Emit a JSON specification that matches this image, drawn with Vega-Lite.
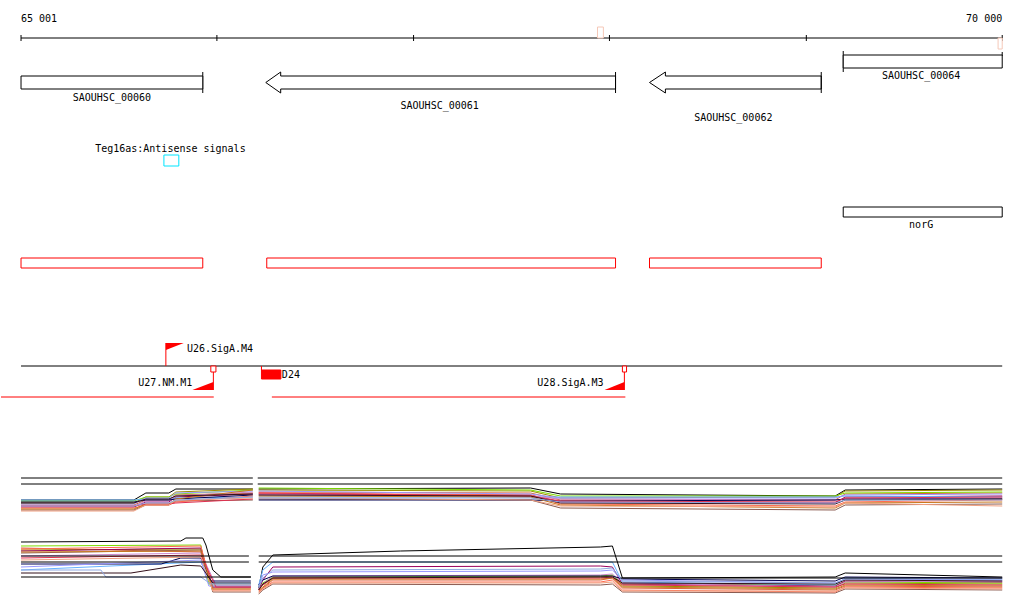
{
"$schema": "https://vega.github.io/schema/vega-lite/v6.json",
"width": 1024, "height": 611, "padding": 0,
"autosize": {"type": "fit", "contains": "padding"},
"background": "white",
"config": {"view": {"stroke": null}},
"datasets": {
"blackRules": [
{"x":65001,"x2":70000,"y":38,"y2":38},
{"x":65001,"x2":65001,"y":35,"y2":41},{"x":65999,"x2":65999,"y":35,"y2":41},{"x":67001,"x2":67001,"y":35,"y2":41},{"x":67999,"x2":67999,"y":35,"y2":41},{"x":69002,"x2":69002,"y":35,"y2":41},{"x":70000,"x2":70000,"y":35,"y2":41},
{"x":65927,"x2":65927,"y":72,"y2":93},{"x":68030,"x2":68030,"y":72,"y2":93},{"x":69078,"x2":69078,"y":72,"y2":93},{"x":69190,"x2":69190,"y":51,"y2":72},{"x":70000,"x2":70000,"y":52,"y2":56},
{"x":65001,"x2":70000,"y":366,"y2":366},
{"x":65001,"x2":66182,"y":478,"y2":478},{"x":66207,"x2":70000,"y":478,"y2":478},
{"x":65001,"x2":66182,"y":484,"y2":484},{"x":66207,"x2":70000,"y":484,"y2":484},
{"x":65001,"x2":66162,"y":556,"y2":556},{"x":66212,"x2":70000,"y":556,"y2":556},
{"x":65001,"x2":66162,"y":562,"y2":562},{"x":66212,"x2":70000,"y":562,"y2":562},
{"x":65001,"x2":66172,"y":577,"y2":577},{"x":68055,"x2":70000,"y":578,"y2":578}
],
"redRules": [
{"x":65739,"x2":65739,"y":343,"y2":366},
{"x":65981,"x2":65981,"y":366,"y2":390},
{"x":68075,"x2":68075,"y":366,"y2":390},
{"x":66226,"x2":66226,"y":366,"y2":370},
{"x":64899,"x2":65983,"y":397,"y2":397},
{"x":66279,"x2":68080,"y":397,"y2":397}
],
"geneRects": [
{"x":65001,"x2":65927,"y":76,"y2":89},
{"x":69190,"x2":70000,"y":55,"y2":68},
{"x":69190,"x2":70000,"y":207,"y2":217}
],
"redRects": [
{"x":65001,"x2":65927,"y":258,"y2":268},
{"x":66253,"x2":68030,"y":258,"y2":268},
{"x":68203,"x2":69078,"y":258,"y2":268},
{"x":65968,"x2":65994,"y":366,"y2":372},
{"x":68065,"x2":68086,"y":366,"y2":372}
],
"redFill": [
{"x":66226,"x2":66325,"y":370,"y2":379}
],
"cyanRects": [
{"x":65729,"x2":65805,"y":155,"y2":166}
],
"pinkRects": [
{"x":67938,"x2":67968,"y":27,"y2":38},
{"x":69979,"x2":70000,"y":38,"y2":49}
],
"arrows": [
{"g":"61","o":1,"x":68030,"y":76},{"g":"61","o":2,"x":66324,"y":76},{"g":"61","o":3,"x":66324,"y":72},{"g":"61","o":4,"x":66248,"y":82.5},{"g":"61","o":5,"x":66324,"y":93},{"g":"61","o":6,"x":66324,"y":89},{"g":"61","o":7,"x":68030,"y":89},{"g":"61","o":8,"x":68030,"y":76},
{"g":"62","o":1,"x":69078,"y":76},{"g":"62","o":2,"x":68284,"y":76},{"g":"62","o":3,"x":68284,"y":72},{"g":"62","o":4,"x":68203,"y":82.5},{"g":"62","o":5,"x":68284,"y":93},{"g":"62","o":6,"x":68284,"y":89},{"g":"62","o":7,"x":69078,"y":89},{"g":"62","o":8,"x":69078,"y":76}
],
"flags": [
{"f":"U26","x":65739,"y":343,"y2":350},{"f":"U26","x":65830,"y":343,"y2":343},
{"f":"U27","x":65874,"y":390,"y2":390},{"f":"U27","x":65981,"y":382,"y2":390},
{"f":"U28","x":67974,"y":390,"y2":390},{"f":"U28","x":68075,"y":382,"y2":390}
],
"labelsLeft": [
{"t":"65 001","x":65001,"y":19},
{"t":"U26.SigA.M4","x":65846,"y":349},
{"t":"D24","x":66330,"y":375}
],
"labelsRight": [
{"t":"70 000","x":70000,"y":19},
{"t":"U27.NM.M1","x":65874,"y":383},
{"t":"U28.SigA.M3","x":67969,"y":383}
],
"labelsCenter": [
{"t":"SAOUHSC_00060","x":65464,"y":98},
{"t":"SAOUHSC_00061","x":67134,"y":106},
{"t":"SAOUHSC_00062","x":68630,"y":118},
{"t":"SAOUHSC_00064","x":69587,"y":76},
{"t":"Teg16as:Antisense signals","x":65762,"y":149},
{"t":"norG","x":69587,"y":225}
],
"expr": [
{"s":"s0","g":"a","x":65001,"y":500},{"s":"s0","g":"a","x":65576,"y":500},{"s":"s0","g":"a","x":65637,"y":493},{"s":"s0","g":"a","x":65754,"y":493},{"s":"s0","g":"a","x":65790,"y":489},{"s":"s0","g":"a","x":66182,"y":489},
{"s":"s1","g":"a","x":65001,"y":505},{"s":"s1","g":"a","x":65576,"y":505},{"s":"s1","g":"a","x":65637,"y":500},{"s":"s1","g":"a","x":65754,"y":500},{"s":"s1","g":"a","x":65790,"y":495},{"s":"s1","g":"a","x":66182,"y":493},
{"s":"s2","g":"a","x":65001,"y":503},{"s":"s2","g":"a","x":65576,"y":503},{"s":"s2","g":"a","x":65637,"y":497},{"s":"s2","g":"a","x":65754,"y":497},{"s":"s2","g":"a","x":65790,"y":492},{"s":"s2","g":"a","x":66182,"y":489},
{"s":"s3","g":"a","x":65001,"y":501},{"s":"s3","g":"a","x":65576,"y":501},{"s":"s3","g":"a","x":65637,"y":497},{"s":"s3","g":"a","x":65754,"y":497},{"s":"s3","g":"a","x":65790,"y":494},{"s":"s3","g":"a","x":66182,"y":490},
{"s":"s4","g":"a","x":65001,"y":507},{"s":"s4","g":"a","x":65576,"y":507},{"s":"s4","g":"a","x":65637,"y":502},{"s":"s4","g":"a","x":65754,"y":502},{"s":"s4","g":"a","x":65790,"y":497},{"s":"s4","g":"a","x":66182,"y":494},
{"s":"s5","g":"a","x":65001,"y":500},{"s":"s5","g":"a","x":65576,"y":500},{"s":"s5","g":"a","x":65637,"y":499},{"s":"s5","g":"a","x":65754,"y":499},{"s":"s5","g":"a","x":65790,"y":498},{"s":"s5","g":"a","x":66182,"y":497},
{"s":"s6","g":"a","x":65001,"y":506},{"s":"s6","g":"a","x":65576,"y":506},{"s":"s6","g":"a","x":65637,"y":501},{"s":"s6","g":"a","x":65754,"y":501},{"s":"s6","g":"a","x":65790,"y":496},{"s":"s6","g":"a","x":66182,"y":492},
{"s":"s7","g":"a","x":65001,"y":510},{"s":"s7","g":"a","x":65576,"y":510},{"s":"s7","g":"a","x":65637,"y":505},{"s":"s7","g":"a","x":65754,"y":505},{"s":"s7","g":"a","x":65790,"y":501},{"s":"s7","g":"a","x":66182,"y":500},
{"s":"s8","g":"a","x":65001,"y":502},{"s":"s8","g":"a","x":65576,"y":502},{"s":"s8","g":"a","x":65637,"y":500},{"s":"s8","g":"a","x":65754,"y":500},{"s":"s8","g":"a","x":65790,"y":499},{"s":"s8","g":"a","x":66182,"y":495},
{"s":"s9","g":"a","x":65001,"y":508},{"s":"s9","g":"a","x":65576,"y":508},{"s":"s9","g":"a","x":65637,"y":505},{"s":"s9","g":"a","x":65754,"y":505},{"s":"s9","g":"a","x":65790,"y":502},{"s":"s9","g":"a","x":66182,"y":496},
{"s":"s10","g":"a","x":65001,"y":504},{"s":"s10","g":"a","x":65576,"y":504},{"s":"s10","g":"a","x":65637,"y":498},{"s":"s10","g":"a","x":65754,"y":498},{"s":"s10","g":"a","x":65790,"y":493},{"s":"s10","g":"a","x":66182,"y":491},
{"s":"s11","g":"a","x":65001,"y":509},{"s":"s11","g":"a","x":65576,"y":509},{"s":"s11","g":"a","x":65637,"y":504},{"s":"s11","g":"a","x":65754,"y":504},{"s":"s11","g":"a","x":65790,"y":499},{"s":"s11","g":"a","x":66182,"y":490},
{"s":"s12","g":"a","x":65001,"y":506},{"s":"s12","g":"a","x":65576,"y":506},{"s":"s12","g":"a","x":65637,"y":504},{"s":"s12","g":"a","x":65754,"y":504},{"s":"s12","g":"a","x":65790,"y":503},{"s":"s12","g":"a","x":66182,"y":499},
{"s":"s13","g":"a","x":65001,"y":511},{"s":"s13","g":"a","x":65576,"y":511},{"s":"s13","g":"a","x":65637,"y":505},{"s":"s13","g":"a","x":65754,"y":505},{"s":"s13","g":"a","x":65790,"y":500},{"s":"s13","g":"a","x":66182,"y":498},
{"s":"s14","g":"a","x":65001,"y":503},{"s":"s14","g":"a","x":65576,"y":503},{"s":"s14","g":"a","x":65637,"y":499},{"s":"s14","g":"a","x":65754,"y":499},{"s":"s14","g":"a","x":65790,"y":496},{"s":"s14","g":"a","x":66182,"y":494},
{"s":"s15","g":"a","x":65001,"y":506},{"s":"s15","g":"a","x":65576,"y":506},{"s":"s15","g":"a","x":65637,"y":503},{"s":"s15","g":"a","x":65754,"y":503},{"s":"s15","g":"a","x":65790,"y":500},{"s":"s15","g":"a","x":66182,"y":497},

{"s":"s0","g":"b","x":66212,"y":489},{"s":"s0","g":"b","x":67597,"y":488},{"s":"s0","g":"b","x":67750,"y":494},{"s":"s0","g":"b","x":69149,"y":496},{"s":"s0","g":"b","x":69200,"y":490},{"s":"s0","g":"b","x":70000,"y":489},
{"s":"s1","g":"b","x":66212,"y":492},{"s":"s1","g":"b","x":67597,"y":493},{"s":"s1","g":"b","x":67750,"y":500},{"s":"s1","g":"b","x":69149,"y":500},{"s":"s1","g":"b","x":69200,"y":494},{"s":"s1","g":"b","x":70000,"y":493},
{"s":"s2","g":"b","x":66212,"y":490},{"s":"s2","g":"b","x":67597,"y":491},{"s":"s2","g":"b","x":67750,"y":498},{"s":"s2","g":"b","x":69149,"y":497},{"s":"s2","g":"b","x":69200,"y":491},{"s":"s2","g":"b","x":70000,"y":490},
{"s":"s3","g":"b","x":66212,"y":488},{"s":"s3","g":"b","x":67597,"y":490},{"s":"s3","g":"b","x":67750,"y":496},{"s":"s3","g":"b","x":69149,"y":496},{"s":"s3","g":"b","x":69200,"y":493},{"s":"s3","g":"b","x":70000,"y":492},
{"s":"s4","g":"b","x":66212,"y":494},{"s":"s4","g":"b","x":67597,"y":495},{"s":"s4","g":"b","x":67750,"y":502},{"s":"s4","g":"b","x":69149,"y":503},{"s":"s4","g":"b","x":69200,"y":497},{"s":"s4","g":"b","x":70000,"y":496},
{"s":"s5","g":"b","x":66212,"y":497},{"s":"s5","g":"b","x":67597,"y":497},{"s":"s5","g":"b","x":67750,"y":497},{"s":"s5","g":"b","x":69149,"y":497},{"s":"s5","g":"b","x":69200,"y":496},{"s":"s5","g":"b","x":70000,"y":497},
{"s":"s6","g":"b","x":66212,"y":495},{"s":"s6","g":"b","x":67597,"y":496},{"s":"s6","g":"b","x":67750,"y":499},{"s":"s6","g":"b","x":69149,"y":500},{"s":"s6","g":"b","x":69200,"y":499},{"s":"s6","g":"b","x":70000,"y":498},
{"s":"s7","g":"b","x":66212,"y":499},{"s":"s7","g":"b","x":67597,"y":500},{"s":"s7","g":"b","x":67750,"y":508},{"s":"s7","g":"b","x":69149,"y":510},{"s":"s7","g":"b","x":69200,"y":505},{"s":"s7","g":"b","x":70000,"y":504},
{"s":"s8","g":"b","x":66212,"y":500},{"s":"s8","g":"b","x":67597,"y":500},{"s":"s8","g":"b","x":67750,"y":501},{"s":"s8","g":"b","x":69149,"y":500},{"s":"s8","g":"b","x":69200,"y":499},{"s":"s8","g":"b","x":70000,"y":499},
{"s":"s9","g":"b","x":66212,"y":493},{"s":"s9","g":"b","x":67597,"y":495},{"s":"s9","g":"b","x":67750,"y":504},{"s":"s9","g":"b","x":69149,"y":506},{"s":"s9","g":"b","x":69200,"y":502},{"s":"s9","g":"b","x":70000,"y":500},
{"s":"s10","g":"b","x":66212,"y":491},{"s":"s10","g":"b","x":67597,"y":494},{"s":"s10","g":"b","x":67750,"y":498},{"s":"s10","g":"b","x":69149,"y":498},{"s":"s10","g":"b","x":69200,"y":495},{"s":"s10","g":"b","x":70000,"y":494},
{"s":"s11","g":"b","x":66212,"y":496},{"s":"s11","g":"b","x":67597,"y":497},{"s":"s11","g":"b","x":67750,"y":505},{"s":"s11","g":"b","x":69149,"y":508},{"s":"s11","g":"b","x":69200,"y":503},{"s":"s11","g":"b","x":70000,"y":502},
{"s":"s12","g":"b","x":66212,"y":493},{"s":"s12","g":"b","x":67597,"y":496},{"s":"s12","g":"b","x":67750,"y":501},{"s":"s12","g":"b","x":69149,"y":502},{"s":"s12","g":"b","x":69200,"y":498},{"s":"s12","g":"b","x":70000,"y":497},
{"s":"s13","g":"b","x":66212,"y":498},{"s":"s13","g":"b","x":67597,"y":500},{"s":"s13","g":"b","x":67750,"y":506},{"s":"s13","g":"b","x":69149,"y":507},{"s":"s13","g":"b","x":69200,"y":503},{"s":"s13","g":"b","x":70000,"y":506},
{"s":"s14","g":"b","x":66212,"y":495},{"s":"s14","g":"b","x":67597,"y":496},{"s":"s14","g":"b","x":67750,"y":503},{"s":"s14","g":"b","x":69149,"y":504},{"s":"s14","g":"b","x":69200,"y":500},{"s":"s14","g":"b","x":70000,"y":499},
{"s":"s15","g":"b","x":66212,"y":498},{"s":"s15","g":"b","x":67597,"y":498},{"s":"s15","g":"b","x":67750,"y":502},{"s":"s15","g":"b","x":69149,"y":503},{"s":"s15","g":"b","x":69200,"y":500},{"s":"s15","g":"b","x":70000,"y":500},

{"s":"s0","g":"c","x":65001,"y":542},{"s":"s0","g":"c","x":65815,"y":541},{"s":"s0","g":"c","x":65841,"y":538},{"s":"s0","g":"c","x":65927,"y":538},{"s":"s0","g":"c","x":65943,"y":545},{"s":"s0","g":"c","x":65978,"y":570},{"s":"s0","g":"c","x":66019,"y":577},{"s":"s0","g":"c","x":66172,"y":577},
{"s":"s1","g":"c","x":65001,"y":548},{"s":"s1","g":"c","x":65917,"y":552},{"s":"s1","g":"c","x":65978,"y":588},{"s":"s1","g":"c","x":66172,"y":588},
{"s":"s2","g":"c","x":65001,"y":550},{"s":"s2","g":"c","x":65917,"y":549},{"s":"s2","g":"c","x":65968,"y":586},{"s":"s2","g":"c","x":66172,"y":586},
{"s":"s3","g":"c","x":65001,"y":546},{"s":"s3","g":"c","x":65917,"y":545},{"s":"s3","g":"c","x":65958,"y":584},{"s":"s3","g":"c","x":66172,"y":584},
{"s":"s4","g":"c","x":65001,"y":551},{"s":"s4","g":"c","x":65917,"y":548},{"s":"s4","g":"c","x":65978,"y":587},{"s":"s4","g":"c","x":66172,"y":587},
{"s":"s5","g":"c","x":65001,"y":570},{"s":"s5","g":"c","x":65917,"y":562},{"s":"s5","g":"c","x":65968,"y":583},{"s":"s5","g":"c","x":66172,"y":583},
{"s":"s6","g":"c","x":65001,"y":556},{"s":"s6","g":"c","x":65917,"y":553},{"s":"s6","g":"c","x":65994,"y":585},{"s":"s6","g":"c","x":66172,"y":585},
{"s":"s7","g":"c","x":65001,"y":553},{"s":"s7","g":"c","x":65917,"y":550},{"s":"s7","g":"c","x":65978,"y":592},{"s":"s7","g":"c","x":66172,"y":592},
{"s":"s8","g":"c","x":65001,"y":564},{"s":"s8","g":"c","x":65715,"y":564},{"s":"s8","g":"c","x":65815,"y":558},{"s":"s8","g":"c","x":65917,"y":558},{"s":"s8","g":"c","x":65968,"y":581},{"s":"s8","g":"c","x":66172,"y":581},
{"s":"s9","g":"c","x":65001,"y":549},{"s":"s9","g":"c","x":65917,"y":546},{"s":"s9","g":"c","x":65978,"y":590},{"s":"s9","g":"c","x":66172,"y":590},
{"s":"s10","g":"c","x":65001,"y":567},{"s":"s10","g":"c","x":65917,"y":560},{"s":"s10","g":"c","x":65958,"y":586},{"s":"s10","g":"c","x":66172,"y":586},
{"s":"s11","g":"c","x":65001,"y":552},{"s":"s11","g":"c","x":65917,"y":551},{"s":"s11","g":"c","x":65978,"y":589},{"s":"s11","g":"c","x":66172,"y":589},
{"s":"s12","g":"c","x":65001,"y":558},{"s":"s12","g":"c","x":65917,"y":555},{"s":"s12","g":"c","x":65994,"y":587},{"s":"s12","g":"c","x":66172,"y":587},
{"s":"s13","g":"c","x":65001,"y":560},{"s":"s13","g":"c","x":65917,"y":557},{"s":"s13","g":"c","x":65978,"y":591},{"s":"s13","g":"c","x":66172,"y":591},
{"s":"s14","g":"c","x":65001,"y":573},{"s":"s14","g":"c","x":65561,"y":573},{"s":"s14","g":"c","x":65815,"y":565},{"s":"s14","g":"c","x":65917,"y":566},{"s":"s14","g":"c","x":65978,"y":583},{"s":"s14","g":"c","x":66172,"y":583},
{"s":"s15","g":"c","x":65001,"y":570},{"s":"s15","g":"c","x":65408,"y":570},{"s":"s15","g":"c","x":65433,"y":577},{"s":"s15","g":"c","x":65917,"y":577},{"s":"s15","g":"c","x":65968,"y":584},{"s":"s15","g":"c","x":66172,"y":584},

{"s":"s0","g":"d","x":66212,"y":588},{"s":"s0","g":"d","x":66233,"y":567},{"s":"s0","g":"d","x":66284,"y":555},{"s":"s0","g":"d","x":66935,"y":551},{"s":"s0","g":"d","x":67953,"y":547},{"s":"s0","g":"d","x":68014,"y":546},{"s":"s0","g":"d","x":68065,"y":578},{"s":"s0","g":"d","x":69149,"y":577},{"s":"s0","g":"d","x":69200,"y":573},{"s":"s0","g":"d","x":70000,"y":577},
{"s":"s1","g":"d","x":66212,"y":592},{"s":"s1","g":"d","x":66233,"y":588},{"s":"s1","g":"d","x":66284,"y":580},{"s":"s1","g":"d","x":67953,"y":580},{"s":"s1","g":"d","x":68014,"y":578},{"s":"s1","g":"d","x":68065,"y":588},{"s":"s1","g":"d","x":69149,"y":590},{"s":"s1","g":"d","x":69200,"y":586},{"s":"s1","g":"d","x":70000,"y":587},
{"s":"s2","g":"d","x":66212,"y":588},{"s":"s2","g":"d","x":66233,"y":585},{"s":"s2","g":"d","x":66284,"y":578},{"s":"s2","g":"d","x":67953,"y":577},{"s":"s2","g":"d","x":68014,"y":576},{"s":"s2","g":"d","x":68065,"y":586},{"s":"s2","g":"d","x":69149,"y":588},{"s":"s2","g":"d","x":69200,"y":583},{"s":"s2","g":"d","x":70000,"y":584},
{"s":"s3","g":"d","x":66212,"y":586},{"s":"s3","g":"d","x":66233,"y":583},{"s":"s3","g":"d","x":66284,"y":577},{"s":"s3","g":"d","x":67953,"y":576},{"s":"s3","g":"d","x":68014,"y":575},{"s":"s3","g":"d","x":68065,"y":584},{"s":"s3","g":"d","x":69149,"y":585},{"s":"s3","g":"d","x":69200,"y":582},{"s":"s3","g":"d","x":70000,"y":583},
{"s":"s4","g":"d","x":66212,"y":590},{"s":"s4","g":"d","x":66233,"y":580},{"s":"s4","g":"d","x":66284,"y":567},{"s":"s4","g":"d","x":67953,"y":566},{"s":"s4","g":"d","x":68014,"y":567},{"s":"s4","g":"d","x":68065,"y":584},{"s":"s4","g":"d","x":69149,"y":586},{"s":"s4","g":"d","x":69200,"y":581},{"s":"s4","g":"d","x":70000,"y":582},
{"s":"s5","g":"d","x":66212,"y":585},{"s":"s5","g":"d","x":66233,"y":570},{"s":"s5","g":"d","x":66284,"y":562},{"s":"s5","g":"d","x":67953,"y":562},{"s":"s5","g":"d","x":68014,"y":562},{"s":"s5","g":"d","x":68065,"y":582},{"s":"s5","g":"d","x":69149,"y":585},{"s":"s5","g":"d","x":69200,"y":578},{"s":"s5","g":"d","x":70000,"y":580},
{"s":"s6","g":"d","x":66212,"y":589},{"s":"s6","g":"d","x":66233,"y":584},{"s":"s6","g":"d","x":66284,"y":576},{"s":"s6","g":"d","x":67953,"y":575},{"s":"s6","g":"d","x":68014,"y":574},{"s":"s6","g":"d","x":68065,"y":583},{"s":"s6","g":"d","x":69149,"y":587},{"s":"s6","g":"d","x":69200,"y":582},{"s":"s6","g":"d","x":70000,"y":581},
{"s":"s7","g":"d","x":66212,"y":594},{"s":"s7","g":"d","x":66233,"y":590},{"s":"s7","g":"d","x":66284,"y":584},{"s":"s7","g":"d","x":67953,"y":585},{"s":"s7","g":"d","x":68014,"y":584},{"s":"s7","g":"d","x":68065,"y":592},{"s":"s7","g":"d","x":69149,"y":593},{"s":"s7","g":"d","x":69200,"y":589},{"s":"s7","g":"d","x":70000,"y":590},
{"s":"s8","g":"d","x":66212,"y":585},{"s":"s8","g":"d","x":66233,"y":580},{"s":"s8","g":"d","x":66284,"y":576},{"s":"s8","g":"d","x":67953,"y":576},{"s":"s8","g":"d","x":68014,"y":576},{"s":"s8","g":"d","x":68065,"y":579},{"s":"s8","g":"d","x":69149,"y":581},{"s":"s8","g":"d","x":69200,"y":577},{"s":"s8","g":"d","x":70000,"y":578},
{"s":"s9","g":"d","x":66212,"y":591},{"s":"s9","g":"d","x":66233,"y":588},{"s":"s9","g":"d","x":66284,"y":582},{"s":"s9","g":"d","x":67953,"y":582},{"s":"s9","g":"d","x":68014,"y":580},{"s":"s9","g":"d","x":68065,"y":590},{"s":"s9","g":"d","x":69149,"y":592},{"s":"s9","g":"d","x":69200,"y":587},{"s":"s9","g":"d","x":70000,"y":588},
{"s":"s10","g":"d","x":66212,"y":587},{"s":"s10","g":"d","x":66233,"y":575},{"s":"s10","g":"d","x":66284,"y":572},{"s":"s10","g":"d","x":67953,"y":571},{"s":"s10","g":"d","x":68014,"y":570},{"s":"s10","g":"d","x":68065,"y":580},{"s":"s10","g":"d","x":69149,"y":583},{"s":"s10","g":"d","x":69200,"y":579},{"s":"s10","g":"d","x":70000,"y":580},
{"s":"s11","g":"d","x":66212,"y":590},{"s":"s11","g":"d","x":66233,"y":587},{"s":"s11","g":"d","x":66284,"y":579},{"s":"s11","g":"d","x":67953,"y":579},{"s":"s11","g":"d","x":68014,"y":578},{"s":"s11","g":"d","x":68065,"y":587},{"s":"s11","g":"d","x":69149,"y":589},{"s":"s11","g":"d","x":69200,"y":585},{"s":"s11","g":"d","x":70000,"y":586},
{"s":"s12","g":"d","x":66212,"y":589},{"s":"s12","g":"d","x":66233,"y":585},{"s":"s12","g":"d","x":66284,"y":578},{"s":"s12","g":"d","x":67953,"y":578},{"s":"s12","g":"d","x":68014,"y":577},{"s":"s12","g":"d","x":68065,"y":585},{"s":"s12","g":"d","x":69149,"y":587},{"s":"s12","g":"d","x":69200,"y":584},{"s":"s12","g":"d","x":70000,"y":585},
{"s":"s13","g":"d","x":66212,"y":593},{"s":"s13","g":"d","x":66233,"y":589},{"s":"s13","g":"d","x":66284,"y":583},{"s":"s13","g":"d","x":67953,"y":583},{"s":"s13","g":"d","x":68014,"y":582},{"s":"s13","g":"d","x":68065,"y":591},{"s":"s13","g":"d","x":69149,"y":591},{"s":"s13","g":"d","x":69200,"y":588},{"s":"s13","g":"d","x":70000,"y":589},
{"s":"s14","g":"d","x":66212,"y":590},{"s":"s14","g":"d","x":66233,"y":584},{"s":"s14","g":"d","x":66284,"y":578},{"s":"s14","g":"d","x":67953,"y":577},{"s":"s14","g":"d","x":68014,"y":577},{"s":"s14","g":"d","x":68065,"y":583},{"s":"s14","g":"d","x":69149,"y":584},{"s":"s14","g":"d","x":69200,"y":580},{"s":"s14","g":"d","x":70000,"y":581},
{"s":"s15","g":"d","x":66212,"y":588},{"s":"s15","g":"d","x":66233,"y":578},{"s":"s15","g":"d","x":66284,"y":570},{"s":"s15","g":"d","x":67953,"y":569},{"s":"s15","g":"d","x":68014,"y":568},{"s":"s15","g":"d","x":68065,"y":581},{"s":"s15","g":"d","x":69149,"y":583},{"s":"s15","g":"d","x":69200,"y":579},{"s":"s15","g":"d","x":70000,"y":579}
]
},
"encoding": {
"x": {"field": "x", "type": "quantitative", "scale": {"domain": [64899, 70111], "nice": false, "zero": false}, "axis": null},
"y": {"field": "y", "type": "quantitative", "scale": {"domain": [0, 611], "reverse": true, "nice": false, "zero": false}, "axis": null}
},
"layer": [
{"data": {"name": "expr"}, "mark": {"type": "line", "strokeWidth": 1, "interpolate": "linear"},
 "encoding": {"detail": {"field": "g"}, "color": {"field": "s", "type": "nominal", "legend": null,
 "scale": {"domain": ["s0","s1","s2","s3","s4","s5","s6","s7","s8","s9","s10","s11","s12","s13","s14","s15"],
 "range": ["#000000","#d9603b","#9c8c00","#7ddc00","#99005c","#66b3ff","#cc88cc","#8b5a4f","#000050","#ff6a4d","#9999ff","#c8781e","#e03050","#f0a080","#33101a","#8fa8e0"]}}}},
{"data": {"name": "blackRules"}, "mark": {"type": "rule", "color": "#000000", "strokeWidth": 1},
 "encoding": {"x2": {"field": "x2"}, "y2": {"field": "y2"}}},
{"data": {"name": "redRules"}, "mark": {"type": "rule", "color": "#ff0000", "strokeWidth": 1},
 "encoding": {"x2": {"field": "x2"}, "y2": {"field": "y2"}}},
{"data": {"name": "geneRects"}, "mark": {"type": "rect", "fill": "white", "stroke": "#000000", "strokeWidth": 1},
 "encoding": {"x2": {"field": "x2"}, "y2": {"field": "y2"}}},
{"data": {"name": "redRects"}, "mark": {"type": "rect", "fill": "white", "stroke": "#ff0000", "strokeWidth": 1},
 "encoding": {"x2": {"field": "x2"}, "y2": {"field": "y2"}}},
{"data": {"name": "redFill"}, "mark": {"type": "rect", "fill": "#ff0000", "stroke": "#ff0000", "strokeWidth": 1},
 "encoding": {"x2": {"field": "x2"}, "y2": {"field": "y2"}}},
{"data": {"name": "cyanRects"}, "mark": {"type": "rect", "fill": "white", "stroke": "#00e5ff", "strokeWidth": 1},
 "encoding": {"x2": {"field": "x2"}, "y2": {"field": "y2"}}},
{"data": {"name": "pinkRects"}, "mark": {"type": "rect", "fill": "white", "stroke": "#f5c8b8", "strokeWidth": 1},
 "encoding": {"x2": {"field": "x2"}, "y2": {"field": "y2"}}},
{"data": {"name": "arrows"}, "mark": {"type": "line", "color": "#000000", "strokeWidth": 1},
 "encoding": {"detail": {"field": "g"}, "order": {"field": "o", "type": "quantitative"}}},
{"data": {"name": "flags"}, "mark": {"type": "area", "color": "#ff0000", "interpolate": "linear"},
 "encoding": {"y2": {"field": "y2"}, "detail": {"field": "f"}}},
{"data": {"name": "labelsLeft"}, "mark": {"type": "text", "align": "left", "baseline": "middle", "font": "DejaVu Sans Mono", "fontSize": 10, "color": "#000000"},
 "encoding": {"text": {"field": "t"}}},
{"data": {"name": "labelsRight"}, "mark": {"type": "text", "align": "right", "baseline": "middle", "font": "DejaVu Sans Mono", "fontSize": 10, "color": "#000000"},
 "encoding": {"text": {"field": "t"}}},
{"data": {"name": "labelsCenter"}, "mark": {"type": "text", "align": "center", "baseline": "middle", "font": "DejaVu Sans Mono", "fontSize": 10, "color": "#000000"},
 "encoding": {"text": {"field": "t"}}}
]
}
